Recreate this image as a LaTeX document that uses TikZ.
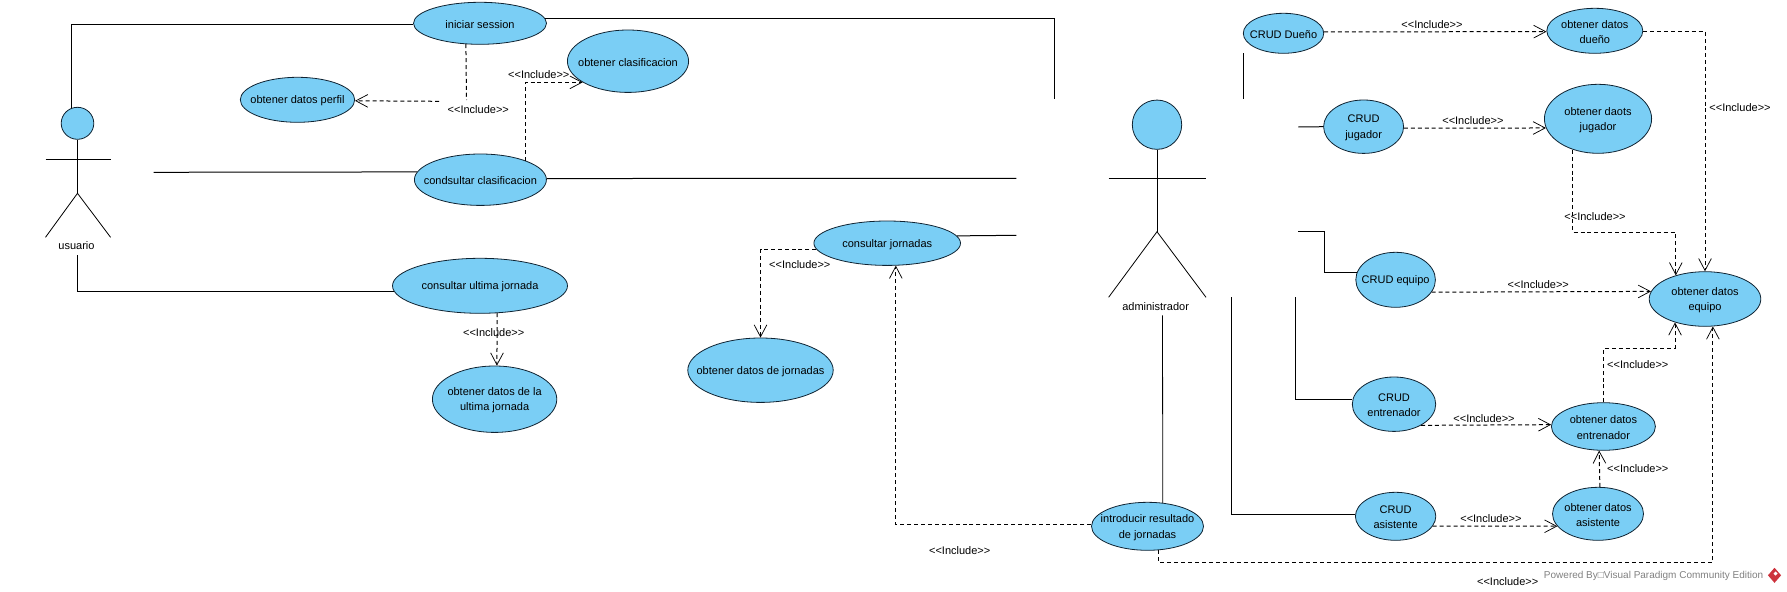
\documentclass[tikz,border=0pt]{standalone}
\usepackage{fontspec}
\usepackage{xcolor}
\setmainfont{Liberation Sans}
\usetikzlibrary{shapes.geometric,arrows.meta}
\definecolor{ucblue}{RGB}{122,206,245}
\definecolor{ucline}{RGB}{15,35,50}
\definecolor{vpgray}{RGB}{128,128,128}
\definecolor{vpred}{RGB}{205,50,60}
\newcommand{\incl}{<{}<Include>{}>}
\tikzset{
  uc/.style n args={3}{ellipse,draw=ucline,fill=ucblue,line width=0.6pt,inner sep=0pt,
    minimum width=#1*0.75pt,minimum height=#2*0.75pt,label={center:#3}},
  every label/.style={align=center,inner sep=0pt,yshift=-0.9pt,font=\fontsize{8.25}{11.5}\selectfont},
  lbl/.style={font=\fontsize{8.25}{11.5}\selectfont,inner sep=0pt,yshift=-0.7pt},
  assoc/.style={line width=0.75pt},
  body/.style={line width=0.6pt},
  incl/.style={line width=0.75pt,dash pattern=on 3pt off 2.2pt,-{Straight Barb[length=9pt,width=9.5pt,line width=0.55pt]}},
  inclnt/.style={line width=0.75pt,dash pattern=on 3pt off 2.2pt},
}
\begin{document}
\begin{tikzpicture}[x=0.75pt,y=-0.75pt]
      \useasboundingbox (0,0) rectangle (1787,592);
      % usuario
      \node[uc={32.6}{32}{}] (usrhead) at (77.5,123.3) {};
      \coordinate (usrhip) at (77.5,193.3);
      \coordinate (usrarml) at (45.5,159.3);
      \coordinate (usrarmr) at (110.6,159.3);
      \coordinate (usrlegl) at (45.5,237.3);
      \coordinate (usrlegr) at (110.6,237.3);
      \draw[body] (usrhead.south) to (usrhip);
      \draw[body] (usrarml) to (usrarmr);
      \draw[body] (usrlegl) to (usrhip) to (usrlegr);
      \node[lbl] (usrlabel) at (76.5,245) {usuario};
      % administrador
      \node[uc={49.4}{49.3}{}] (admhead) at (1157,124.7) {};
      \coordinate (admhip) at (1157,231.7);
      \coordinate (admarml) at (1108.6,178.3);
      \coordinate (admarmr) at (1206,178.3);
      \coordinate (admlegl) at (1108.6,297.3);
      \coordinate (admlegr) at (1206,297.3);
      \draw[body] (admhead.south) to (admhip);
      \draw[body] (admarml) to (admarmr);
      \draw[body] (admlegl) to (admhip) to (admlegr);
      \node[lbl] (admlabel) at (1155.6,305.3) {administrador};
      % casos de uso, lado izquierdo
      \node[uc={133}{42}{iniciar session}] (iniciar) at (480,23.3) {};
      \node[uc={114.4}{45}{obtener datos perfil}] (perfil) at (297.5,99.8) {};
      \node[uc={121.2}{62.4}{obtener clasificacion}] (clasif) at (628,61.2) {};
      \node[uc={132}{51.4}{condsultar clasificacion}] (condsul) at (480.4,179.7) {};
      \node[uc={175}{55}{consultar ultima jornada}] (ultima) at (480,285.8) {};
      \node[uc={124.4}{66.4}{obtener datos de la\\ultima jornada}] (datosult) at (494.6,399.2) {};
      \node[uc={146.6}{44.4}{consultar jornadas}] (jornadas) at (887.2,243.2) {};
      \node[uc={145.4}{64.4}{obtener datos de jornadas}] (datosjor) at (760.5,370.2) {};
      \node[uc={112}{48}{introducir resultado\\de jornadas}] (intro) at (1147.5,526.3) {};
      % casos de uso, lado derecho
      \node[uc={80.4}{40}{CRUD Dueño}] (crudduen) at (1283.5,33.3) {};
      \node[uc={96}{45}{obtener datos\\dueño}] (obtduen) at (1594.8,30.8) {};
      \node[uc={80}{53.4}{CRUD\\jugador}] (crudjug) at (1363.6,126.7) {};
      \node[uc={107.2}{69}{obtener daots\\jugador}] (obtjug) at (1598,118.8) {};
      \node[uc={79.6}{55}{CRUD equipo}] (crudequ) at (1395.6,279.8) {};
      \node[uc={111.6}{54.6}{obtener datos\\equipo}] (obtequ) at (1705,299) {};
      \node[uc={83.4}{54.4}{CRUD\\entrenador}] (crudent) at (1394,404.2) {};
      \node[uc={104}{47.6}{obtener datos\\entrenador}] (obtent) at (1603.4,426.5) {};
      \node[uc={80.4}{48}{CRUD\\asistente}] (crudasi) at (1395.6,516.3) {};
      \node[uc={91}{53}{obtener datos\\asistente}] (obtasi) at (1598,513.8) {};
      % extremos libres
      \coordinate (iniend) at (1054.2,99.3);
      \coordinate (ininc) at (466.5,100);
      \coordinate (perfinc) at (439,101.3);
      \coordinate (condl) at (153.5,172.3);
      \coordinate (condr) at (1016.4,178.3);
      \coordinate (jorr) at (1016.4,235.3);
      \coordinate (usrfoot) at (77.7,255);
      \coordinate (admfoot) at (1162.5,315.3);
      \coordinate (bajo) at (1300,562.3);
      \coordinate (duena) at (1243.3,53.3);
      \coordinate (duenb) at (1243.3,99.3);
      \coordinate (jugl) at (1298.4,127);
      \coordinate (equl) at (1298.4,231);
      \coordinate (equm) at (1324.4,250);
      \coordinate (entt) at (1295.3,297);
      \coordinate (asit) at (1231.8,297);
      \coordinate (jugm) at (1620,232.3);
      \coordinate (entm) at (1640,348.3);
      % asociaciones
      \draw[assoc] (usrhead.111) |- (iniciar.181);
      \draw[assoc] (iniciar.4.4) -| (iniend);
      \draw[assoc] (condl) to (condsul.173.3);
      \draw[assoc] (condsul.1.2) to (condr);
      \draw[assoc] (usrfoot) |- (ultima.184.4);
      \draw[assoc] (jornadas.6.6) to (jorr);
      \draw[body] (admfoot) to (intro.57);
      \draw[assoc] (duena) to (duenb);
      \draw[assoc] (jugl) to (crudjug.west);
      \draw[assoc] (equl) -| (equm) |- (crudequ.170.5);
      \draw[assoc] (entt) |- (crudent.174.6);
      \draw[assoc] (asit) |- (crudasi.178.6);
      % includes
      \draw[inclnt] (iniciar.236.7) to (ininc);
      \draw[incl] (perfinc) to (perfil.-1.5);
      \draw[incl] (condsul.23.6) |- (clasif.205.3);
      \draw[incl] (ultima.-58.3) to (datosult.86.4);
      \draw[incl] (jornadas.185.6) -| (datosjor.north);
      \draw[incl] (intro.178.8) -| (jornadas.-69.6);
      \draw[incl] (intro.-65.4) |- (bajo) -| (obtequ.-74.9);
      \draw[incl] (crudduen.2.3) to (obtduen.181.1);
      \draw[incl] (obtduen.-1.8) -| (obtequ.north);
      \draw[incl] (crudjug.-2.3) to (obtjug.190.4);
      \draw[incl] (obtjug.231.4) |- (jugm) -| (obtequ.141.7);
      \draw[incl] (crudequ.-19.4) to (obtequ.172.9);
      \draw[incl] (crudent.-38.7) to (obtent.178.7);
      \draw[incl] (obtent.north) |- (entm) -| (obtequ.218.3);
      \draw[incl] (crudasi.-15.3) to (obtasi.197.3);
      \draw[incl] (obtasi.86.8) to (obtent.260.65);
      % etiquetas
      \node[lbl] (incl1) at (478.3,109) {\incl};
      \node[lbl] (incl2) at (538.8,74) {\incl};
      \node[lbl] (incl3) at (493.7,331.3) {\incl};
      \node[lbl] (incl4) at (799.8,264) {\incl};
      \node[lbl] (incl5) at (959.7,549.3) {\incl};
      \node[lbl] (incl6) at (1507.7,581) {\incl};
      \node[lbl] (incl7) at (1432,23.3) {\incl};
      \node[lbl] (incl8) at (1740,107) {\incl};
      \node[lbl] (incl9) at (1472.9,120) {\incl};
      \node[lbl] (incl10) at (1595,216) {\incl};
      \node[lbl] (incl11) at (1538.3,284) {\incl};
      \node[lbl] (incl12) at (1637.8,364) {\incl};
      \node[lbl] (incl13) at (1484,417.3) {\incl};
      \node[lbl] (incl14) at (1637.8,468) {\incl};
      \node[lbl] (incl15) at (1490.9,518) {\incl};
      % marca
      \node[font=\fontsize{7.5}{9}\selectfont,text=vpgray,inner sep=0pt,anchor=west] (vptext) at (1543.7,575.7) {Powered By□Visual Paradigm Community Edition};
      \node[diamond,fill=vpred,inner sep=0pt,minimum width=10pt,minimum height=11.5pt] (vplogo) at (1774.5,575.3) {};
      \node[diamond,fill=white,inner sep=0pt,minimum width=3.2pt,minimum height=3.2pt] (vpmark) at (1775.5,573.5) {};
    \end{tikzpicture}
\end{document}
